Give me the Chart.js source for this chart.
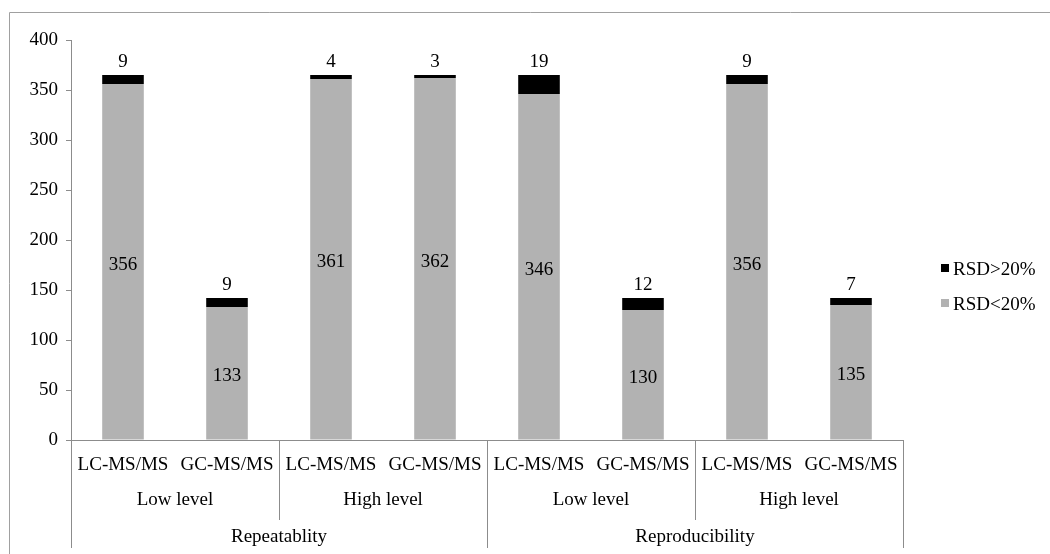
<!DOCTYPE html>
<html>
<head>
<meta charset="utf-8">
<script src="https://cdn.jsdelivr.net/npm/chart.js@4.4.1/dist/chart.umd.min.js"></script>
<style>
  html, body { margin: 0; padding: 0; background: #fff; }
  #wrap { width: 1050px; height: 554px; position: relative; }
</style>
</head>
<body>
<div id="wrap"><canvas id="rsdChart"></canvas></div>
<script>
// Values
const methods = ['LC-MS/MS', 'GC-MS/MS', 'LC-MS/MS', 'GC-MS/MS', 'LC-MS/MS', 'GC-MS/MS', 'LC-MS/MS', 'GC-MS/MS'];
const levels = ['Low level', 'High level', 'Low level', 'High level'];
const groups = ['Repeatablity', 'Reproducibility'];
const below20 = [356, 133, 361, 362, 346, 130, 356, 135];
const above20 = [9, 9, 4, 3, 19, 12, 9, 7];
const yTicks = [0, 50, 100, 150, 200, 250, 300, 350, 400];

const FAMILY = '"Liberation Serif", "Times New Roman", serif';
const FONT = '19px ' + FAMILY;
const AXIS = '#8c8c8c';

// Labels inside / above bars, multi-level x axis, legend and outer frame
const decorPlugin = {
    id: 'decor',
    afterDraw(chart) {
        const ctx = chart.ctx;
        const x = chart.scales.x;
        const area = chart.chartArea;
        const metaLow = chart.getDatasetMeta(0);
        const metaHigh = chart.getDatasetMeta(1);

        ctx.save();
        ctx.font = FONT;
        ctx.fillStyle = '#000';
        ctx.textAlign = 'center';
        ctx.textBaseline = 'middle';

        // value labels
        metaLow.data.forEach((bar, i) => {
            ctx.fillText(String(below20[i]), bar.x, (bar.y + bar.base) / 2 + 3);
        });
        metaHigh.data.forEach((bar, i) => {
            ctx.fillText(String(above20[i]), bar.x, bar.y - 13);
        });

        // category rows
        const step = x.getPixelForValue(1) - x.getPixelForValue(0);
        methods.forEach((m, i) => {
            ctx.fillText(m, x.getPixelForValue(i), area.bottom + 25);
        });
        levels.forEach((l, i) => {
            const c = (x.getPixelForValue(i * 2) + x.getPixelForValue(i * 2 + 1)) / 2;
            ctx.fillText(l, c, area.bottom + 60);
        });
        groups.forEach((g, i) => {
            const c = (x.getPixelForValue(i * 4) + x.getPixelForValue(i * 4 + 3)) / 2;
            ctx.fillText(g, c, area.bottom + 97);
        });

        // separators
        ctx.strokeStyle = AXIS;
        ctx.lineWidth = 1;
        for (let k = 0; k <= methods.length; k += 2) {
            const px = Math.round(x.getPixelForValue(k) - step / 2) + 0.5;
            const full = k % 4 === 0;
            ctx.beginPath();
            ctx.moveTo(px, area.bottom);
            ctx.lineTo(px, area.bottom + (full ? 108 : 80));
            ctx.stroke();
        }

        // legend
        const items = [
            { text: 'RSD>20%', color: chart.data.datasets[1].backgroundColor, y: 269 },
            { text: 'RSD<20%', color: chart.data.datasets[0].backgroundColor, y: 304 }
        ];
        ctx.textAlign = 'left';
        items.forEach(it => {
            ctx.fillStyle = it.color;
            ctx.fillRect(941, it.y - 5, 8, 8);
            ctx.fillStyle = '#000';
            ctx.fillText(it.text, 953, it.y + 1);
        });

        // outer frame
        ctx.strokeStyle = '#a0a0a0';
        ctx.beginPath();
        ctx.moveTo(9.5, 560);
        ctx.lineTo(9.5, 12.5);
        ctx.lineTo(1060, 12.5);
        ctx.stroke();
        ctx.restore();
    }
};

new Chart(document.getElementById('rsdChart'), {
    type: 'bar',
    data: {
        labels: methods,
        datasets: [
            {
                label: 'RSD<20%',
                data: below20,
                backgroundColor: '#b2b2b2',
                categoryPercentage: 1,
                barPercentage: 0.4
            },
            {
                label: 'RSD>20%',
                data: above20,
                backgroundColor: '#000000',
                categoryPercentage: 1,
                barPercentage: 0.4
            }
        ]
    },
    options: {
        responsive: true,
        maintainAspectRatio: false,
        animation: false,
        layout: { padding: { left: 0, top: 40, right: 147, bottom: 0 } },
        plugins: {
            legend: { display: false },
            tooltip: { enabled: false }
        },
        scales: {
            x: {
                stacked: true,
                grid: { display: false },
                border: { display: true, color: AXIS },
                ticks: { display: false },
                afterFit(scale) { scale.height = 114; }
            },
            y: {
                stacked: true,
                min: 0,
                max: 400,
                afterBuildTicks(scale) { scale.ticks = yTicks.map(v => ({ value: v })); },
                grid: { drawOnChartArea: false, tickLength: 5, color: AXIS },
                border: { display: true, color: AXIS },
                ticks: {
                    color: '#000',
                    padding: 8,
                    font: { family: FAMILY, size: 19 }
                },
                afterFit(scale) { scale.width = 71; }
            }
        }
    },
    plugins: [decorPlugin]
});
</script>
</body>
</html>
